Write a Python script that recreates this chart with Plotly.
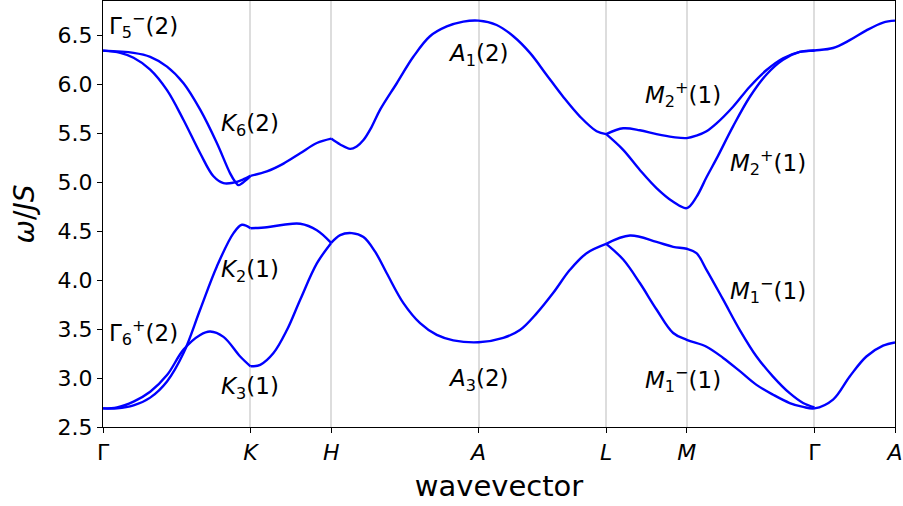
import plotly.graph_objects as go

# high-symmetry path (distance along the path, Gamma-K = 1)
tick_pos = [0.0, 1.0, 1.547, 2.546, 3.412, 3.958, 4.824, 5.370]
tick_text = ["Γ", "<i>K</i>", "<i>H</i>", "<i>A</i>", "<i>L</i>", "<i>M</i>", "Γ", "<i>A</i>"]

# ---- upper (optical) pair of magnon branches ----
top_gk_inner_x = [0.0, 0.117, 0.207, 0.320, 0.434, 0.546, 0.659, 0.749, 0.817, 0.885, 0.953, 1.0]
top_gk_inner_y = [6.343, 6.32, 6.27, 6.15, 5.94, 5.635, 5.295, 5.06, 4.99, 4.995, 5.03, 5.065]
top_gk_outer_x = [0.0, 0.207, 0.320, 0.434, 0.546, 0.659, 0.772, 0.862, 0.896, 0.919, 0.976, 1.0]
top_gk_outer_y = [6.343, 6.32, 6.28, 6.18, 6.01, 5.74, 5.40, 5.09, 5.005, 4.97, 5.03, 5.065]
top_kh_x = [1.0, 1.111, 1.224, 1.337, 1.450, 1.547]
top_kh_y = [5.065, 5.11, 5.19, 5.295, 5.40, 5.445]
top_hl_x = [1.547, 1.608, 1.676, 1.720, 1.766, 1.820, 1.879, 1.992, 2.104, 2.217, 2.331, 2.443, 2.546,
            2.669, 2.782, 2.895, 3.008, 3.121, 3.234, 3.347, 3.412]
top_hl_y = [5.445, 5.385, 5.34, 5.365, 5.43, 5.56, 5.74, 6.01, 6.28, 6.49, 6.59, 6.64, 6.65,
            6.605, 6.49, 6.32, 6.095, 5.87, 5.67, 5.52, 5.49]
top_lg_upper_x = [3.412, 3.527, 3.640, 3.753, 3.866, 3.958, 4.024, 4.092, 4.160, 4.272, 4.385,
                  4.499, 4.611, 4.724, 4.824]
top_lg_upper_y = [5.49, 5.55, 5.53, 5.49, 5.46, 5.45, 5.475, 5.52, 5.60, 5.77, 5.975,
                  6.145, 6.265, 6.33, 6.345]
top_lg_lower_x = [3.412, 3.527, 3.640, 3.753, 3.866, 3.958, 4.024, 4.092, 4.160, 4.272, 4.385,
                  4.499, 4.611, 4.724, 4.824]
top_lg_lower_y = [5.49, 5.33, 5.125, 4.94, 4.80, 4.735, 4.85, 5.05, 5.24, 5.57, 5.87,
                  6.10, 6.25, 6.33, 6.345]
top_ga_x = [4.950, 5.063, 5.176, 5.289, 5.370]
top_ga_y = [6.37, 6.45, 6.55, 6.63, 6.65]

# ---- lower (acoustic) pair of magnon branches ----
low_gk_steep_x = [0.0, 0.095, 0.207, 0.320, 0.434, 0.546, 0.659, 0.772, 0.885, 0.942, 1.0]
low_gk_steep_y = [2.69, 2.69, 2.72, 2.80, 2.965, 3.255, 3.70, 4.14, 4.48, 4.565, 4.53]
low_gk_hump_x = [0.0, 0.095, 0.207, 0.320, 0.434, 0.546, 0.659, 0.727, 0.817, 0.930, 1.0]
low_gk_hump_y = [2.69, 2.70, 2.76, 2.86, 3.03, 3.29, 3.44, 3.475, 3.42, 3.22, 3.12]
low_kh_a_x = [1.0, 1.111, 1.224, 1.337, 1.450, 1.547]
low_kh_a_y = [4.53, 4.54, 4.565, 4.575, 4.51, 4.38]
low_kh_b_x = [1.0, 1.066, 1.156, 1.247, 1.337, 1.450, 1.547]
low_kh_b_y = [3.12, 3.135, 3.255, 3.49, 3.80, 4.17, 4.38]
low_hl_x = [1.547, 1.608, 1.687, 1.766, 1.845, 1.924, 2.037, 2.150, 2.263, 2.375, 2.546,
            2.714, 2.827, 2.940, 3.053, 3.166, 3.279, 3.412]
low_hl_y = [4.38, 4.46, 4.48, 4.44, 4.29, 4.07, 3.765, 3.56, 3.44, 3.385, 3.365,
            3.41, 3.49, 3.66, 3.87, 4.105, 4.275, 4.37]
low_lg_upper_x = [3.412, 3.573, 3.753, 3.866, 3.958, 4.024, 4.092, 4.205, 4.318, 4.431, 4.543, 4.656, 4.747, 4.824]
low_lg_upper_y = [4.37, 4.455, 4.39, 4.34, 4.32, 4.275, 4.105, 3.80, 3.49, 3.22, 3.015, 2.845, 2.745, 2.70]
low_lg_lower_x = [3.412, 3.527, 3.640, 3.753, 3.866, 3.958, 4.092, 4.205, 4.318, 4.431, 4.543, 4.656, 4.747, 4.824]
low_lg_lower_y = [4.37, 4.21, 3.97, 3.70, 3.46, 3.39, 3.32, 3.205, 3.07, 2.93, 2.83, 2.745, 2.705, 2.69]
low_ga_x = [4.950, 5.063, 5.176, 5.289, 5.370]
low_ga_y = [2.78, 3.016, 3.22, 3.33, 3.363]

# the M-Gamma-A stretch is smooth through Gamma, so those pieces are joined
segments = [
    (top_gk_inner_x, top_gk_inner_y), (top_gk_outer_x, top_gk_outer_y),
    (top_kh_x, top_kh_y), (top_hl_x, top_hl_y),
    (top_lg_upper_x + top_ga_x, top_lg_upper_y + top_ga_y),
    (top_lg_lower_x, top_lg_lower_y),
    (low_gk_steep_x, low_gk_steep_y), (low_gk_hump_x, low_gk_hump_y),
    (low_kh_a_x, low_kh_a_y), (low_kh_b_x, low_kh_b_y),
    (low_hl_x, low_hl_y),
    (low_lg_upper_x, low_lg_upper_y),
    (low_lg_lower_x + low_ga_x, low_lg_lower_y + low_ga_y),
]

# irreducible-representation labels: (x, y, text, anchor)
irrep_labels = [
    (0.03, 6.60, "Γ<sub>5</sub><sup>−</sup>(2)", "left"),
    (1.0, 5.58, "<i>K</i><sub>6</sub>(2)", "center"),
    (1.0, 4.09, "<i>K</i><sub>2</sub>(1)", "center"),
    (1.0, 2.90, "<i>K</i><sub>3</sub>(1)", "center"),
    (0.03, 3.47, "Γ<sub>6</sub><sup>+</sup>(2)", "left"),
    (2.546, 6.30, "<i>A</i><sub>1</sub>(2)", "center"),
    (2.546, 2.98, "<i>A</i><sub>3</sub>(2)", "center"),
    (3.93, 5.90, "<i>M</i><sub>2</sub><sup>+</sup>(1)", "center"),
    (4.51, 5.20, "<i>M</i><sub>2</sub><sup>+</sup>(1)", "center"),
    (4.51, 3.89, "<i>M</i><sub>1</sub><sup>−</sup>(1)", "center"),
    (3.93, 2.99, "<i>M</i><sub>1</sub><sup>−</sup>(1)", "center"),
]

FONT = "DejaVu Sans"

fig = go.Figure()
for xs, ys in segments:
    fig.add_trace(go.Scatter(
        x=xs, y=ys, mode="lines",
        line=dict(color="#0000ff", width=2.4, shape="spline", smoothing=1.0),
        showlegend=False, hoverinfo="skip",
    ))

for x, y, text, anchor in irrep_labels:
    fig.add_annotation(x=x, y=y, text=text, showarrow=False,
                       xanchor=anchor, yanchor="middle",
                       font=dict(family=FONT, size=23, color="black"))

fig.update_layout(
    width=903, height=506,
    margin=dict(l=103, r=8, t=1, b=79),
    paper_bgcolor="white", plot_bgcolor="white",
    font=dict(family=FONT, color="black"),
    xaxis=dict(
        range=[0, 5.370], tickvals=tick_pos, ticktext=tick_text,
        showgrid=True, gridcolor="#dddddd", gridwidth=1.6,
        showline=True, linecolor="black", linewidth=1.2, mirror=True,
        ticks="outside", ticklen=5, tickcolor="black",
        tickfont=dict(family=FONT, size=22),
        title=dict(text="wavevector", font=dict(family=FONT, size=29), standoff=12),
        zeroline=False,
    ),
    yaxis=dict(
        range=[2.5, 6.85], tickvals=[2.5, 3.0, 3.5, 4.0, 4.5, 5.0, 5.5, 6.0, 6.5],
        tickformat=".1f", showgrid=False,
        showline=True, linecolor="black", linewidth=1.2, mirror=True,
        ticks="outside", ticklen=5, tickcolor="black",
        tickfont=dict(family=FONT, size=22),
        title=dict(text="<i>ω</i>/<i>JS</i>", font=dict(family=FONT, size=28), standoff=14),
        zeroline=False,
    ),
)

fig.write_html("out.html")
